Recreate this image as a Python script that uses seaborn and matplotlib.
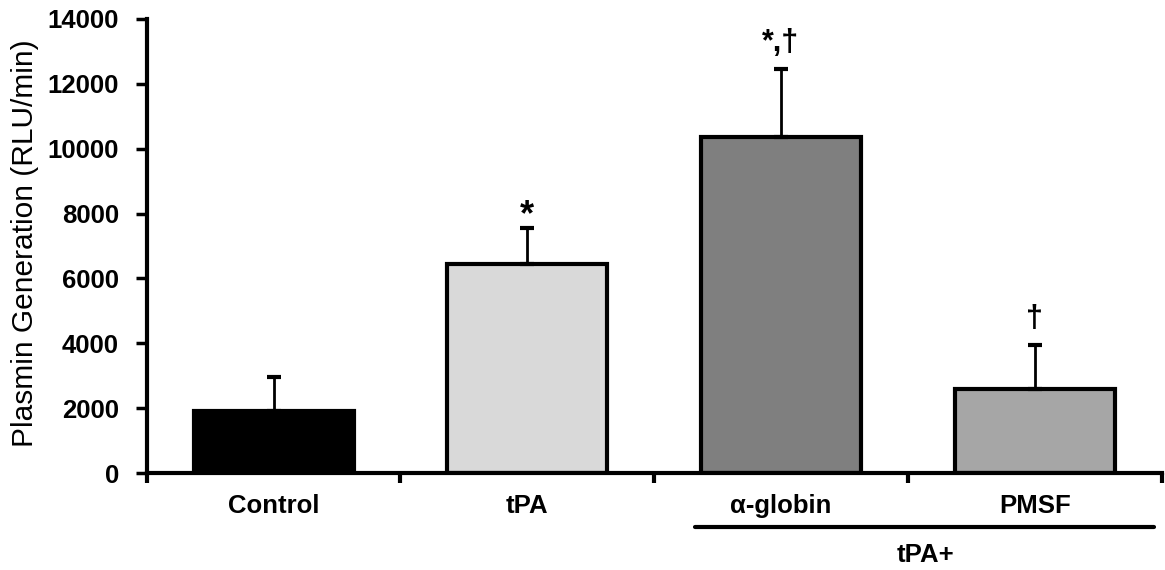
import numpy as np
import pandas as pd
import seaborn as sns
import matplotlib.pyplot as plt

# Values
groups = ["Control", "tPA", "α-globin", "PMSF"]
means = [1900, 6450, 10350, 2600]
sem = [1050, 1100, 2100, 1350]
marks = ["", "*", "*,†", "†"]
bar_colors = ["#000000", "#d9d9d9", "#7f7f7f", "#a6a6a6"]

sns.set_style("ticks")
plt.rcParams['font.family'] = ['Liberation Sans', 'DejaVu Sans']
plt.rcParams.update({"text.color": "black", "axes.labelcolor": "black",
                     "xtick.color": "black", "ytick.color": "black",
                     "axes.edgecolor": "black"})

df = pd.DataFrame({"group": groups, "rlu": means})

fig = plt.figure(figsize=(11.65, 5.70), dpi=100)
ax = fig.add_axes([0.126, 0.170, 0.871, 0.797])

sns.barplot(data=df, x="group", y="rlu", hue="group", order=groups,
            palette=bar_colors, width=0.63, edgecolor="black", linewidth=3,
            errorbar=None, legend=False, ax=ax)

# one-sided error bars (upper only)
x = np.arange(len(groups))
ax.errorbar(x, means, yerr=[np.zeros(len(sem)), sem], fmt="none",
            ecolor="black", elinewidth=2, capsize=5, capthick=3, zorder=1)

# significance marks
for xi, m, s, mk in zip(x, means, sem, marks):
    if mk:
        fs = 26 if mk == "*" else 22
        off = -150 if mk == "*" else 350
        ax.text(xi, m + s + off, mk, ha="center", va="bottom",
                fontsize=fs, fontweight="bold")

ax.set_xlim(-0.5, 3.5)
ax.set_ylim(0, 14000)
ax.set_yticks(np.arange(0, 14001, 2000))
ax.set_xlabel("")
ax.set_ylabel("Plasmin Generation (RLU/min)", fontsize=21.5)
ax.yaxis.set_label_coords(-0.106, 0.505)

# boundary ticks between categories
ax.set_xticks(np.arange(-0.5, 3.6, 1.0), minor=True)
ax.tick_params(axis="x", which="major", length=0, pad=15)
ax.tick_params(axis="x", which="minor", length=7, width=3, direction="out")
ax.tick_params(axis="y", length=8, width=2.5, direction="out", pad=12)
for lab in ax.get_xticklabels() + ax.get_yticklabels():
    lab.set_fontsize(18.5)
    lab.set_fontweight("bold")

sns.despine(ax=ax)
ax.spines["left"].set_linewidth(3)
ax.spines["bottom"].set_linewidth(3)

# grouping bracket for the tPA+ treatments
ax.plot([1.66, 3.47], [-1660, -1660], color="black", lw=3,
        clip_on=False)
ax.text(2.57, -2150, "tPA+", ha="center", va="top", fontsize=18.5,
        fontweight="bold")

fig.savefig("out.png", dpi=100)
